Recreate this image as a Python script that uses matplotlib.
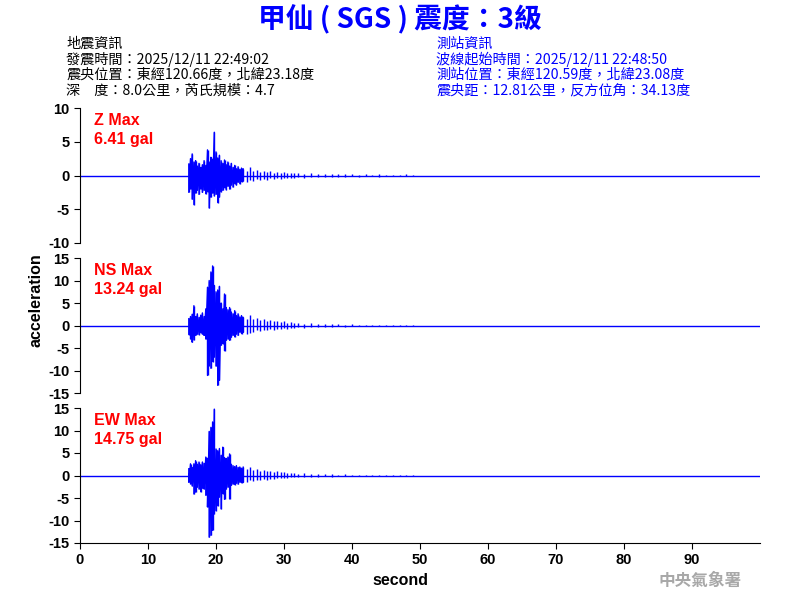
import numpy as np
import matplotlib
matplotlib.use("Agg")
import matplotlib.pyplot as plt

plt.rcParams["font.family"] = ["Liberation Sans", "Noto Sans CJK TC", "DejaVu Sans"]
plt.rcParams["axes.unicode_minus"] = False

# time grid (s): fine near the arrival, coarser in the coda
t_fine = np.arange(16.0, 24.0, 0.25)
t_mid = np.arange(24.0, 32.0, 0.5)
t_tail = np.arange(32.0, 50.0, 1.0)
times = np.concatenate([t_fine, t_mid, t_tail])
n_fine = len(t_fine)

# per-sample upper / lower excursions (gal) read from the record
z_hi = [1.7, 2.5, 3.2, 2.0, 2.2, 1.4, 1.8, 1.2, 1.6, 2.2, 1.5, 3.8, 2.0, 2.7, 2.4, 6.41,
        3.5, 2.6, 3.0, 2.2, 1.8, 2.3, 1.6, 2.0, 1.4, 1.8, 1.2, 1.5, 1.0, 1.3, 0.9, 1.1,
        1.0, 0.7, 1.2, 0.6, 0.8, 0.5, 0.7, 0.5, 0.6, 0.4, 0.5, 0.4, 0.5, 0.3, 0.4, 0.3,
        0.3, 0.2, 0.3, 0.2, 0.25, 0.15, 0.2, 0.15, 0.2, 0.1, 0.15, 0.1, 0.15, 0.1, 0.1, 0.1,
        0.15, 0.05]
z_lo = [-2.5, -2.0, -3.5, -4.3, -2.6, -2.2, -2.8, -2.0, -2.5, -2.2, -2.7, -2.4, -4.8, -3.2, -2.6, -3.0,
        -2.8, -4.0, -3.2, -2.4, -2.2, -1.8, -2.1, -1.6, -2.0, -1.4, -1.7, -1.2, -1.4, -1.0, -1.2, -0.9,
        -0.8, -1.0, -0.6, -0.8, -0.5, -0.7, -0.5, -0.6, -0.4, -0.5, -0.4, -0.5, -0.3, -0.4, -0.3, -0.3,
        -0.2, -0.3, -0.2, -0.25, -0.15, -0.2, -0.15, -0.2, -0.1, -0.15, -0.1, -0.1, -0.15, -0.1, -0.1, -0.05,
        -0.05, -0.05]

ns_hi = [1.5, 2.0, 2.5, 4.4, 2.0, 2.6, 1.8, 2.3, 2.8, 2.0, 3.7, 8.5, 10.0, 11.9, 13.24, 8.9,
         7.5, 7.9, 8.7, 5.0, 3.7, 7.0, 4.0, 3.5, 4.0, 3.0, 2.6, 3.3, 2.2, 2.6, 1.9, 2.2,
         1.8, 1.5, 2.4, 1.4, 1.6, 1.2, 1.5, 1.0, 1.2, 0.9, 1.0, 0.8, 0.9, 0.6, 0.7, 0.5,
         0.5, 0.4, 0.5, 0.3, 0.4, 0.3, 0.3, 0.2, 0.3, 0.2, 0.2, 0.2, 0.15, 0.2, 0.1, 0.15,
         0.1, 0.1]
ns_lo = [-2.0, -3.0, -3.7, -3.2, -2.2, -1.9, -2.0, -1.6, -1.9, -2.2, -3.0, -11.1, -8.9, -9.5, -8.0, -7.0,
         -9.0, -13.3, -12.2, -4.4, -4.0, -5.6, -3.3, -3.0, -3.3, -2.6, -2.2, -2.5, -1.9, -2.2, -1.5, -1.8,
         -1.5, -1.8, -1.6, -1.4, -1.1, -1.3, -0.9, -1.1, -0.8, -1.0, -0.7, -0.8, -0.6, -0.7, -0.5, -0.5,
         -0.4, -0.5, -0.3, -0.4, -0.3, -0.3, -0.2, -0.3, -0.2, -0.2, -0.2, -0.15, -0.2, -0.1, -0.15, -0.1,
         -0.1, -0.1]

ew_hi = [1.5, 2.6, 1.8, 2.6, 3.3, 2.5, 3.0, 2.4, 3.0, 2.7, 4.1, 3.8, 9.8, 10.7, 11.9, 14.75,
         5.9, 5.5, 6.0, 4.5, 6.3, 4.0, 3.8, 4.1, 4.8, 2.5, 2.2, 2.0, 2.2, 1.8, 1.9, 1.6,
         1.9, 1.5, 1.8, 1.2, 1.5, 1.1, 1.2, 0.9, 1.0, 0.8, 0.9, 0.7, 0.7, 0.6, 0.5, 0.5,
         0.4, 0.5, 0.3, 0.4, 0.3, 0.3, 0.2, 0.3, 0.2, 0.2, 0.15, 0.2, 0.1, 0.15, 0.1, 0.1,
         0.1, 0.1]
ew_lo = [-1.5, -1.9, -2.3, -4.1, -3.7, -2.6, -3.0, -3.6, -2.8, -3.0, -4.4, -7.0, -13.7, -13.3, -12.2, -8.5,
         -7.8, -6.7, -4.8, -7.4, -4.0, -5.3, -3.0, -2.6, -5.2, -2.2, -1.9, -2.0, -1.7, -1.9, -1.5, -1.6,
         -1.5, -1.4, -1.1, -1.3, -1.0, -1.1, -0.8, -0.9, -0.7, -0.8, -0.6, -0.6, -0.5, -0.5, -0.4, -0.4,
         -0.3, -0.4, -0.3, -0.3, -0.2, -0.3, -0.2, -0.2, -0.15, -0.2, -0.1, -0.1, -0.15, -0.1, -0.1, -0.1,
         -0.1, -0.1]

components = ["Z", "NS", "EW"]
max_gal = ["6.41", "13.24", "14.75"]
y_limits = [10, 15, 15]

title = "甲仙 ( SGS ) 震度：3級"
quake_info = ["地震資訊",
              "發震時間：2025/12/11 22:49:02",
              "震央位置：東經120.66度，北緯23.18度",
              "深　度：8.0公里，芮氏規模：4.7"]
station_info = ["測站資訊",
                "波線起始時間：2025/12/11 22:48:50",
                "測站位置：東經120.59度，北緯23.08度",
                "震央距：12.81公里，反方位角：34.13度"]

cjk = ["Noto Sans CJK TC", "DejaVu Sans"]
blue = "#0000ff"


def zigzag(t, hi, lo):
    xs = np.repeat(t, 2)
    ys = np.empty(2 * len(t))
    ys[0::2] = hi
    ys[1::2] = lo
    return xs, ys


fig = plt.figure(figsize=(8, 6), dpi=100)
boxes = [(0.10, 0.595, 0.85, 0.225), (0.10, 0.345, 0.85, 0.225), (0.10, 0.095, 0.85, 0.225)]
traces = [(z_hi, z_lo), (ns_hi, ns_lo), (ew_hi, ew_lo)]

for i, (box, (hi, lo)) in enumerate(zip(boxes, traces)):
    ax = fig.add_axes(box)
    ax.axhline(0, color=blue, lw=1.0)
    hi = np.asarray(hi)
    lo = np.asarray(lo)
    xs, ys = zigzag(times[:n_fine + 1], hi[:n_fine + 1], lo[:n_fine + 1])
    ax.plot(xs, ys, color=blue, lw=1.0)
    ax.vlines(times, lo, hi, color=blue, lw=1.0)
    lim = y_limits[i]
    ax.set_xlim(0, 100)
    ax.set_ylim(-lim, lim)
    ax.set_yticks(np.arange(-lim, lim + 1, 5))
    for s in ["top", "right"]:
        ax.spines[s].set_visible(False)
    ax.tick_params(axis="y", direction="out", length=4, labelsize=10.5)
    for lbl in ax.get_yticklabels():
        lbl.set_fontweight("bold")
    if i < 2:
        ax.spines["bottom"].set_visible(False)
        ax.set_xticks([])
    else:
        ax.set_xticks(np.arange(0, 100, 10))
        ax.tick_params(axis="x", direction="out", length=4, labelsize=10.5)
        for lbl in ax.get_xticklabels():
            lbl.set_fontweight("bold")
    ax.text(0.02, 0.96, f"{components[i]} Max\n{max_gal[i]} gal", transform=ax.transAxes,
            color="#ff0000", fontsize=11.5, fontweight="bold", va="top", ha="left",
            linespacing=1.3)

fig.text(0.045, 0.5, "acceleration", rotation=90, va="center", ha="center",
         fontsize=11.5, fontweight="bold")
fig.text(0.5, 0.033, "second", ha="center", va="center", fontsize=11.5, fontweight="bold")

fig.text(0.5, 0.968, title, ha="center", va="center", color=blue,
         fontsize=20, fontweight="bold", family=cjk)
for k, line in enumerate(quake_info):
    fig.text(0.083, 0.927 - k * 0.026, line, ha="left", va="center", fontsize=10.2,
             fontweight="medium", family=cjk, color="black")
for k, line in enumerate(station_info):
    fig.text(0.545, 0.927 - k * 0.026, line, ha="left", va="center", fontsize=10.2,
             fontweight="medium", family=cjk, color=blue)

fig.text(0.875, 0.032, "中央氣象署", ha="center", va="center", fontsize=12,
         fontweight="bold", color="#a8a8a8", family=cjk)

fig.savefig("out.png", dpi=100)
